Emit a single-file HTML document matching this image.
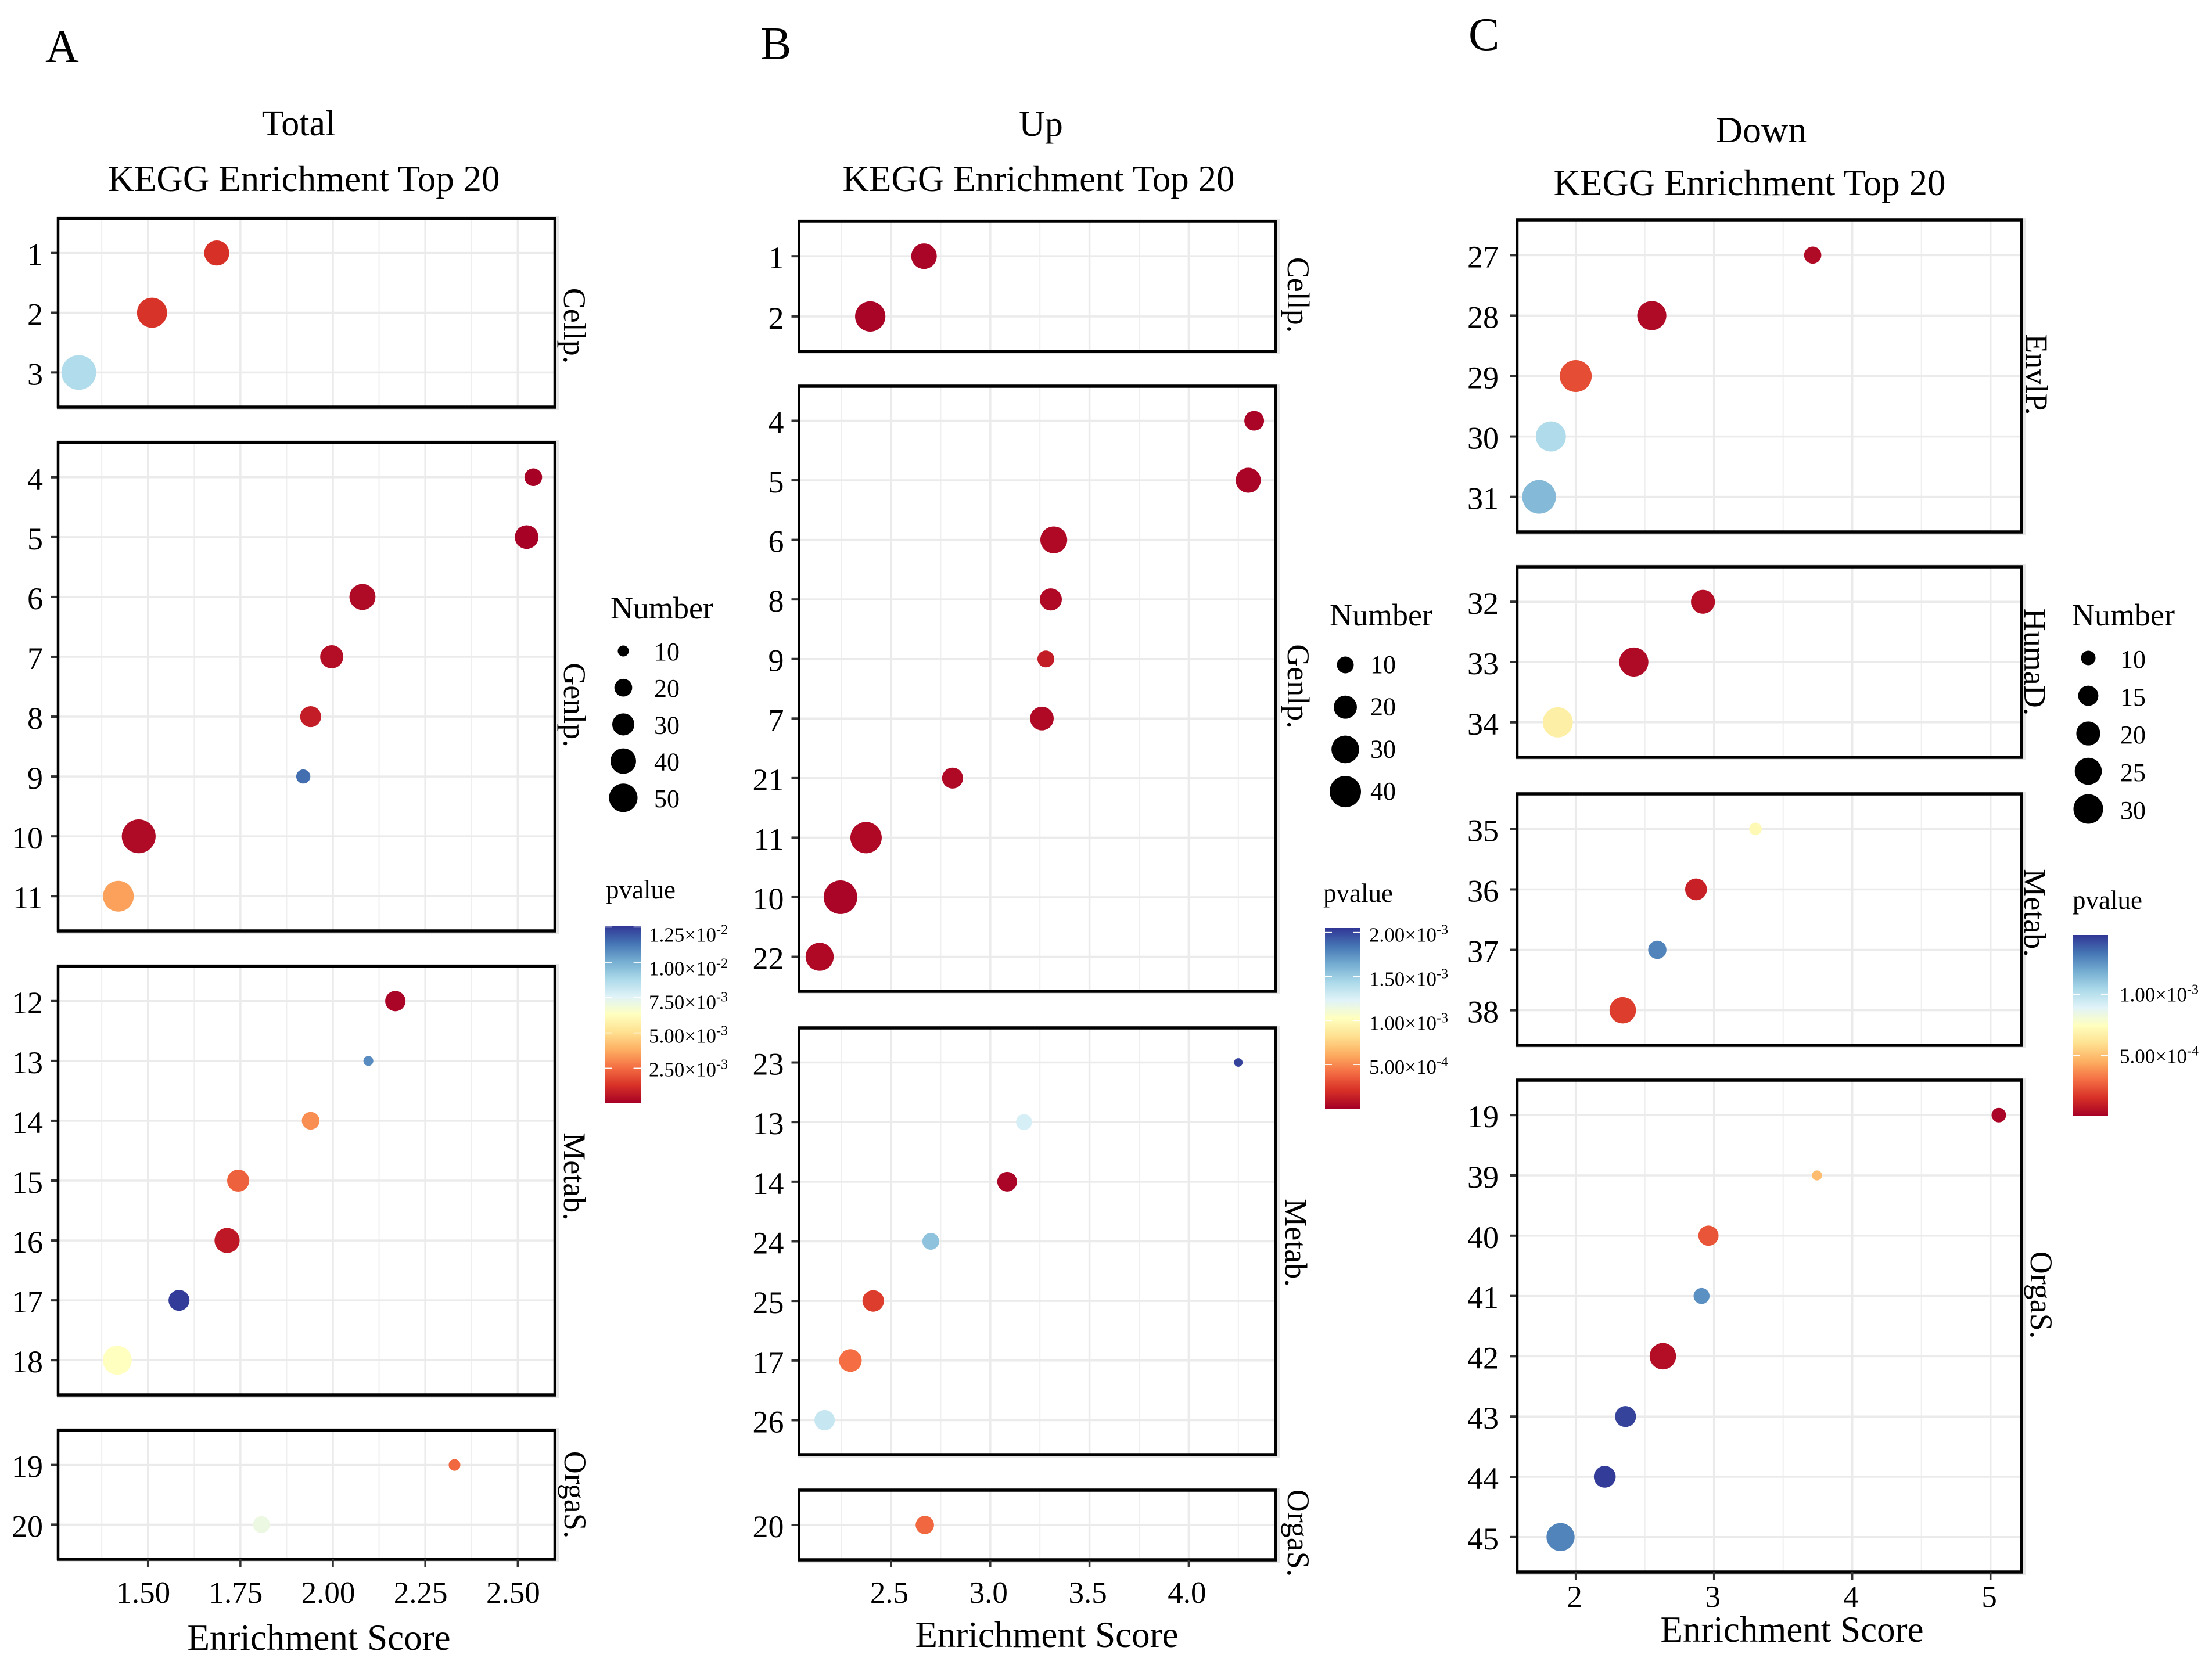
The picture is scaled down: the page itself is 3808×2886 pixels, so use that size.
<!DOCTYPE html>
<html lang="en">
<head>
<meta charset="utf-8">
<title>KEGG Enrichment Top 20</title>
<style>
html,body{margin:0;padding:0;background:#fff;}
svg{display:block;}
text{font-family:"Liberation Serif","Times New Roman",serif;fill:#000;}
</style>
</head>
<body>
<svg id="figure" xmlns="http://www.w3.org/2000/svg" width="3808" height="2886" viewBox="0 0 3808 2886">
<defs>
<linearGradient id="rdylbu" x1="0" y1="1" x2="0" y2="0">
<stop offset="0" stop-color="#a50026"/><stop offset="0.1" stop-color="#d73027"/><stop offset="0.2" stop-color="#f46d43"/><stop offset="0.3" stop-color="#fdae61"/><stop offset="0.4" stop-color="#fee090"/><stop offset="0.5" stop-color="#ffffbf"/><stop offset="0.6" stop-color="#e0f3f8"/><stop offset="0.7" stop-color="#abd9e9"/><stop offset="0.8" stop-color="#74add1"/><stop offset="0.9" stop-color="#4575b4"/><stop offset="1" stop-color="#313695"/>
</linearGradient>
</defs>
<rect width="3808" height="2886" fill="#fff"/>
<text x="78" y="107" font-size="80">A</text>
<text x="1309" y="102" font-size="80">B</text>
<text x="2528" y="86" font-size="80">C</text>
<text x="514" y="233" font-size="62" text-anchor="middle">Total</text>
<text x="523" y="329" font-size="63" text-anchor="middle">KEGG Enrichment Top 20</text>
<text x="1792" y="234" font-size="62" text-anchor="middle">Up</text>
<text x="1788" y="329" font-size="63" text-anchor="middle">KEGG Enrichment Top 20</text>
<text x="3032" y="245" font-size="64" text-anchor="middle">Down</text>
<text x="3012" y="336" font-size="63" text-anchor="middle">KEGG Enrichment Top 20</text>
<text x="549" y="2841" font-size="63" text-anchor="middle">Enrichment Score</text>
<text x="1802" y="2836" font-size="63" text-anchor="middle">Enrichment Score</text>
<text x="3085" y="2827" font-size="63" text-anchor="middle">Enrichment Score</text>
<text x="1051" y="1065" font-size="54">Number</text>
<text x="2289" y="1077" font-size="54">Number</text>
<text x="3567" y="1077" font-size="54">Number</text>
<text x="1043" y="1547" font-size="45">pvalue</text>
<text x="2278" y="1553" font-size="45">pvalue</text>
<text x="3568" y="1565" font-size="45">pvalue</text>
</svg>
<script>
/* ---------- Chart A: Total ---------- */
const aFacetNames = ['Cellp.', 'Genlp.', 'Metab.', 'OrgaS.'];
const aFacetSizes = [3, 8, 7, 2];
const aTerms = ['1','2','3','4','5','6','7','8','9','10','11','12','13','14','15','16','17','18','19','20'];
const aScores = [1.686,1.511,1.313,2.542,2.524,2.08,1.997,1.94,1.92,1.475,1.42,2.169,2.096,1.94,1.744,1.714,1.584,1.417,2.329,1.807];
const aNumbers = [28,40,54,15,25,30,24,20,11,51,42,19,8,15,22,28,20,37,9,14];
const aPvalues = [1.26e-3,1.32e-3,8.69e-3,6e-5,6e-5,2.5e-4,3.8e-4,7.6e-4,1.147e-2,2.5e-4,3.53e-3,1.3e-4,1.084e-2,3.15e-3,2.27e-3,6.3e-4,1.247e-2,6.3e-3,2.39e-3,7.06e-3];
const aXTicks = [1.5,1.75,2,2.25,2.5];
const aXTickLabels = ['1.50','1.75','2.00','2.25','2.50'];
const aSizeBreaks = [10,20,30,40,50];
const aPBreaks = [1.25e-2,1e-2,7.5e-3,5e-3,2.5e-3];
const aPRange = [0,1.26e-2];

/* ---------- Chart B: Up ---------- */
const bFacetNames = ['Cellp.', 'Genlp.', 'Metab.', 'OrgaS.'];
const bFacetSizes = [2, 10, 7, 1];
const bTerms = ['1','2','4','5','6','8','9','7','21','11','10','22','23','13','14','24','25','17','26','20'];
const bScores = [2.666,2.395,4.33,4.30,3.32,3.305,3.28,3.26,2.81,2.374,2.245,2.14,4.25,3.17,3.085,2.70,2.41,2.295,2.165,2.67];
const bNumbers = [25,37,14,24,28,18,10,21,16,40,47,31,4.2,9,14,10,17,19,15,12];
const bPvalues = [2e-5,2e-5,2e-5,2e-5,4e-5,4e-5,1.2e-4,4e-5,4e-5,4e-5,2e-5,4e-5,2.01e-3,1.27e-3,2e-5,1.54e-3,2.5e-4,4.1e-4,1.33e-3,3.9e-4];
const bXTicks = [2.5,3,3.5,4];
const bXTickLabels = ['2.5','3.0','3.5','4.0'];
const bSizeBreaks = [10,20,30,40];
const bPBreaks = [2e-3,1.5e-3,1e-3,5e-4];
const bPRange = [0,2.05e-3];

/* ---------- Chart C: Down ---------- */
const cFacetNames = ['EnvlP.', 'HumaD.', 'Metab.', 'OrgaS.'];
const cFacetSizes = [5, 3, 4, 8];
const cTerms = ['27','28','29','30','31','32','33','34','35','36','37','38','19','39','40','41','42','43','44','45'];
const cScores = [3.714,2.55,2.0,1.82,1.735,2.92,2.42,1.87,3.30,2.87,2.59,2.34,5.06,3.745,2.96,2.91,2.63,2.36,2.21,1.89];
const cNumbers = [12,29,35,31,39,20,29,31,9,17,13,24,10,8.2,15,11,24,16,17,27];
const cPvalues = [3e-5,3e-5,2.2e-4,1.03e-3,1.15e-3,4.5e-5,3e-5,6.7e-4,7.15e-4,1e-4,1.3e-3,1.8e-4,1.5e-5,4.9e-4,2.4e-4,1.27e-3,4.5e-5,1.46e-3,1.475e-3,1.3e-3];
const cXTicks = [2,3,4,5];
const cXTickLabels = ['2','3','4','5'];
const cSizeBreaks = [10,15,20,25,30];
const cPBreaks = [1e-3,5e-4];
const cPRange = [0,1.49e-3];

/* shared colour palette for the pvalue scale (RdYlBu, low to high) */
const paletteHex = ['#a50026','#d73027','#f46d43','#fdae61','#fee090','#ffffbf','#e0f3f8','#abd9e9','#74add1','#4575b4','#313695'];

const NS = 'http://www.w3.org/2000/svg';
const fig = document.getElementById('figure');
const ROW_EXPAND = 0.58;

function svgEl(tag){ return document.createElementNS(NS, tag); }
function setAll(el, attrs){ for (const k in attrs) el.setAttribute(k, attrs[k]); }

function pColor(p, range){
  const t = Math.max(0, Math.min(1, (p - range[0]) / (range[1] - range[0]))) * (paletteHex.length - 1);
  const i = Math.min(paletteHex.length - 2, Math.floor(t));
  const f = t - i;
  const rgb = h => [1,3,5].map(s => parseInt(h.substr(s,2),16));
  const a = rgb(paletteHex[i]), b = rgb(paletteHex[i+1]);
  return 'rgb(' + a.map((v,j) => Math.round(v + (b[j]-v)*f)).join(',') + ')';
}

function drawChart(c){
  const g = svgEl('g');
  
  
  fig.appendChild(g);

  const xScale = v => c.left + (v - c.domain[0]) / (c.domain[1] - c.domain[0]) * (c.right - c.left);
  const dia = n => c.size.a + c.size.b * Math.sqrt(Math.max(0, n - c.size.n0));
  const step = c.xTicks[1] - c.xTicks[0];
  const minorStart = c.xTicks[0] - step / 2;

  let offset = 0;
  c.facetSizes.forEach((count, fi) => {
    const top = c.panels[fi][0], bottom = c.panels[fi][1];
    const rowH = (bottom - top) / (count - 1 + 2 * ROW_EXPAND);
    const yScale = i => top + (i + ROW_EXPAND) * rowH;

    const shadow = svgEl('rect');
    
    
    setAll(shadow, {x: c.left - 2, y: top - 4, width: c.right - c.left + 9, height: bottom - top + 9, fill: '#e6e6e6'});
    g.appendChild(shadow);

    const bg = svgEl('rect');
    
    
    setAll(bg, {x: c.left, y: top, width: c.right - c.left, height: bottom - top, fill: '#fff'});
    g.appendChild(bg);

    for (let v = minorStart; v < c.domain[1]; v += step) {
      if (v <= c.domain[0]) continue;
      const minor = svgEl('line');
      
      
      setAll(minor, {x1: xScale(v), x2: xScale(v), y1: top, y2: bottom, stroke: '#efefef', 'stroke-width': 2});
      g.appendChild(minor);
    }
    c.xTicks.forEach(v => {
      const major = svgEl('line');
      
      
      setAll(major, {x1: xScale(v), x2: xScale(v), y1: top, y2: bottom, stroke: '#ebebeb', 'stroke-width': 3.5});
      g.appendChild(major);
    });
    for (let i = 0; i < count; i++) {
      const row = svgEl('line');
      
      
      setAll(row, {x1: c.left, x2: c.right, y1: yScale(i), y2: yScale(i), stroke: '#ebebeb', 'stroke-width': 3.5});
      g.appendChild(row);
    }
    for (let i = 0; i < count; i++) {
      const idx = offset + i;
      const tick = svgEl('line');
      
      
      setAll(tick, {x1: c.left - 13, x2: c.left, y1: yScale(i), y2: yScale(i), stroke: '#333', 'stroke-width': 4});
      g.appendChild(tick);

      const label = svgEl('text');
      
      
      setAll(label, {x: c.left - c.yLabelGap, y: yScale(i) + 21, 'font-size': 54, 'text-anchor': 'end'});
      label.textContent = c.terms[idx];
      g.appendChild(label);

      const pt = svgEl('circle');
      
      
      setAll(pt, {cx: xScale(c.scores[idx]), cy: yScale(i), r: dia(c.numbers[idx]) / 2, fill: pColor(c.pvalues[idx], c.pRange)});
      g.appendChild(pt);
    }

    const border = svgEl('rect');
    
    
    setAll(border, {x: c.left, y: top, width: c.right - c.left, height: bottom - top, fill: 'none', stroke: '#000', 'stroke-width': 4.5});
    g.appendChild(border);

    [top, bottom].forEach(edgeY => {
      const edge = svgEl('line');
      
      
      setAll(edge, {x1: c.left - 2, x2: c.right + 2, y1: edgeY, y2: edgeY, stroke: '#000', 'stroke-width': 5.5});
      g.appendChild(edge);
    });

    const strip = svgEl('text');
    
    
    const sx = c.strips[fi][0], sy = c.strips[fi][1];
    setAll(strip, {x: sx, y: sy, 'font-size': 54, 'text-anchor': 'middle', transform: 'rotate(90 ' + sx + ' ' + sy + ')'});
    strip.textContent = c.facetNames[fi];
    g.appendChild(strip);

    offset += count;
  });

  const axisTop = c.panels[c.panels.length - 1][1];
  c.xTicks.forEach((v, i) => {
    const tick = svgEl('line');
    
    
    setAll(tick, {x1: xScale(v), x2: xScale(v), y1: axisTop, y2: axisTop + 13, stroke: '#333', 'stroke-width': 3.5});
    g.appendChild(tick);

    const label = svgEl('text');
    
    
    setAll(label, {x: xScale(v) + c.xLabelDx, y: c.xLabelY, 'font-size': 53, 'text-anchor': 'middle'});
    label.textContent = c.xTickLabels[i];
    g.appendChild(label);
  });

  c.sizeBreaks.forEach((n, i) => {
    const cy = c.sizeLegend.y + i * c.sizeLegend.step;
    const key = svgEl('circle');
    
    
    setAll(key, {cx: c.sizeLegend.x, cy: cy, r: dia(n) * c.sizeLegend.factor / 2, fill: '#000'});
    g.appendChild(key);

    const label = svgEl('text');
    
    
    setAll(label, {x: c.sizeLegend.labelX, y: cy + c.sizeLegend.labelDy, 'font-size': 44});
    label.textContent = String(n);
    g.appendChild(label);
  });

  const cb = c.colorbar;
  const bar = svgEl('rect');
  
  
  setAll(bar, {x: cb.x, y: cb.top, width: cb.w, height: cb.bottom - cb.top, fill: 'url(#rdylbu)'});
  g.appendChild(bar);

  const cbY = p => cb.bottom - (p - c.pRange[0]) / (c.pRange[1] - c.pRange[0]) * (cb.bottom - cb.top);
  c.pBreaks.forEach((p, i) => {
    const y = cbY(p);
    [[cb.x, cb.x + cb.w / 5], [cb.x + cb.w * 4 / 5, cb.x + cb.w]].forEach(seg => {
      const tick = svgEl('line');
      
      
      setAll(tick, {x1: seg[0], x2: seg[1], y1: y, y2: y, stroke: '#fff', 'stroke-width': 1.5});
      g.appendChild(tick);
    });
    const parts = p.toExponential(2).split('e');
    const frac = c.pBreaks.length > 1 ? i / (c.pBreaks.length - 1) : 0;
    const label = svgEl('text');
    
    
    setAll(label, {x: cb.labelX, y: y + cb.dyTop + (cb.dyBottom - cb.dyTop) * frac, 'font-size': 35});
    label.textContent = parts[0] + '\u00d710';
    const sup = svgEl('tspan');
    setAll(sup, {'font-size': 24, dy: -13});
    sup.textContent = String(parseInt(parts[1], 10));
    label.appendChild(sup);
    g.appendChild(label);
  });
}

drawChart({
  left: 100, right: 955, domain: [1.257, 2.6],
  panels: [[376,701],[762,1603],[1664,2402],[2463,2685]],
  strips: [[971,561],[971,1214],[971,2026],[972,2574]],
  facetNames: aFacetNames, facetSizes: aFacetSizes,
  terms: aTerms, scores: aScores, numbers: aNumbers, pvalues: aPvalues,
  xTicks: aXTicks, xTickLabels: aXTickLabels, xLabelDx: -8, xLabelY: 2760, yLabelGap: 26,
  size: {a: 9.8, b: 7.3, n0: 7},
  sizeBreaks: aSizeBreaks,
  sizeLegend: {x: 1073, y: 1121, step: 63.2, factor: 0.85, labelX: 1126, labelDy: 16},
  pBreaks: aPBreaks, pRange: aPRange,
  colorbar: {x: 1041, w: 62, top: 1594, bottom: 1900, labelX: 1117, dyTop: 25, dyBottom: 14}
});
drawChart({
  left: 1375.5, right: 2196, domain: [2.036, 4.438],
  panels: [[381,605],[665,1707],[1770,2505],[2566,2686]],
  strips: [[2217,508],[2217,1182],[2213,2140],[2217,2640]],
  facetNames: bFacetNames, facetSizes: bFacetSizes,
  terms: bTerms, scores: bScores, numbers: bNumbers, pvalues: bPvalues,
  xTicks: bXTicks, xTickLabels: bXTickLabels, xLabelDx: -3, xLabelY: 2760, yLabelGap: 26,
  size: {a: 11.75, b: 7.04, n0: 4},
  sizeBreaks: bSizeBreaks,
  sizeLegend: {x: 2316, y: 1145, step: 72.7, factor: 1, labelX: 2359, labelDy: 14},
  pBreaks: bPBreaks, pRange: bPRange,
  colorbar: {x: 2281, w: 60, top: 1598, bottom: 1909, labelX: 2357, dyTop: 16, dyBottom: 16}
});
drawChart({
  left: 2612, right: 3480, domain: [1.577, 5.224],
  panels: [[379,916],[976,1304],[1367,1800],[1860,2707]],
  strips: [[3488,645],[3485,1140],[3485,1572],[3496,2230]],
  facetNames: cFacetNames, facetSizes: cFacetSizes,
  terms: cTerms, scores: cScores, numbers: cNumbers, pvalues: cPvalues,
  xTicks: cXTicks, xTickLabels: cXTickLabels, xLabelDx: -2, xLabelY: 2767, yLabelGap: 32,
  size: {a: 13.8, b: 7.93, n0: 8},
  sizeBreaks: cSizeBreaks,
  sizeLegend: {x: 3595, y: 1133, step: 65, factor: 1, labelX: 3650, labelDy: 17},
  pBreaks: cPBreaks, pRange: cPRange,
  colorbar: {x: 3569, w: 60, top: 1610, bottom: 1922, labelX: 3649, dyTop: 12, dyBottom: 13}
});
</script>
</body>
</html>
